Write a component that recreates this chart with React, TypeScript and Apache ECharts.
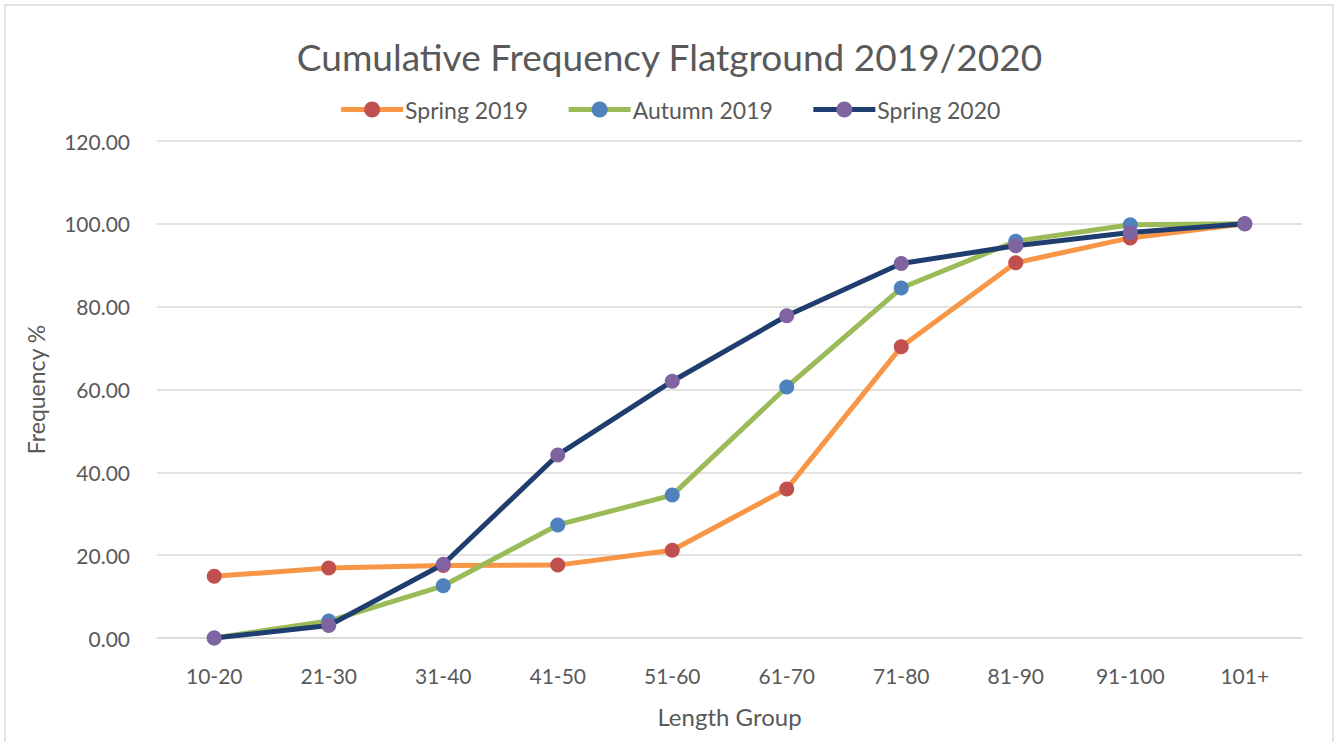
import React, { useEffect, useRef } from "react";
import * as echarts from "echarts";

const categories = ["10-20", "21-30", "31-40", "41-50", "51-60", "61-70", "71-80", "81-90", "91-100", "101+"];
const spring2019 = [14.9, 16.9, 17.5, 17.6, 21.2, 36.0, 70.3, 90.6, 96.6, 100.0];
const autumn2019 = [0.0, 4.1, 12.6, 27.3, 34.5, 60.6, 84.5, 95.8, 99.8, 100.0];
const spring2020 = [0.0, 3.0, 17.8, 44.2, 62.0, 77.8, 90.4, 94.7, 97.9, 100.0];
const yTicks = { min: 0, max: 120, interval: 20 };

const FONT = "Lato, 'Open Sans', sans-serif";
const TXT = "#595959";

export default function App() {
  const ref = useRef<HTMLDivElement>(null);
  useEffect(() => {
    if (!ref.current) return;
    const chart = echarts.init(ref.current, null, { renderer: "svg" });
    const mk = (name: string, data: number[], line: string, marker: string, z: number) => ({
      name,
      type: "line",
      data,
      z,
      symbol: "circle",
      symbolSize: 15,
      lineStyle: { color: line, width: 5 },
      itemStyle: { color: marker },
    });
    chart.setOption({
      animation: false,
      backgroundColor: "#ffffff",
      textStyle: { fontFamily: FONT },
      title: {
        text: "Cumulative Frequency Flatground 2019/2020",
        left: "center",
        top: 33,
        textStyle: { fontFamily: FONT, fontSize: 37, fontWeight: "normal", color: TXT },
      },
      legend: {
        top: 93,
        left: "center",
        itemWidth: 62,
        itemHeight: 20,
        itemGap: 38,
        lineStyle: { width: 5 },
        textStyle: { fontFamily: FONT, fontSize: 23, color: TXT, padding: [0, 0, 0, -3] },
      },
      graphic: [
        {
          type: "rect",
          shape: { x: 5, y: 5, width: 1328, height: 740 },
          style: { fill: "none", stroke: "#d9d9d9", lineWidth: 1.5 },
          silent: true,
        },
      ],
      grid: { left: 157, right: 37, top: 141, bottom: 104, containLabel: false },
      xAxis: {
        type: "category",
        data: categories,
        boundaryGap: true,
        name: "Length Group",
        nameLocation: "middle",
        nameGap: 66,
        nameTextStyle: { fontFamily: FONT, fontSize: 24, color: TXT },
        axisLine: { show: true, lineStyle: { color: "#d9d9d9", width: 1.5 } },
        axisTick: { show: false },
        axisLabel: { fontFamily: FONT, fontSize: 21, color: TXT, margin: 27 },
      },
      yAxis: {
        type: "value",
        min: yTicks.min,
        max: yTicks.max,
        interval: yTicks.interval,
        name: "Frequency %",
        nameLocation: "middle",
        nameGap: 110,
        nameTextStyle: { fontFamily: FONT, fontSize: 23, color: TXT },
        axisLine: { show: false },
        axisTick: { show: false },
        splitLine: { lineStyle: { color: "#d9d9d9", width: 1.5 } },
        axisLabel: {
          fontFamily: FONT,
          fontSize: 21,
          color: TXT,
          margin: 27,
          formatter: (v: number) => v.toFixed(2),
        },
      },
      series: [
        mk("Spring 2019", spring2019, "#F79646", "#C0504D", 2),
        mk("Autumn 2019", autumn2019, "#9BBB59", "#4F81BD", 3),
        mk("Spring 2020", spring2020, "#1F3D6E", "#8064A2", 4),
      ],
    });
    return () => chart.dispose();
  }, []);
  return <div ref={ref} style={{ position: "fixed", left: 0, top: 0, width: 1339, height: 742 }} />;
}
